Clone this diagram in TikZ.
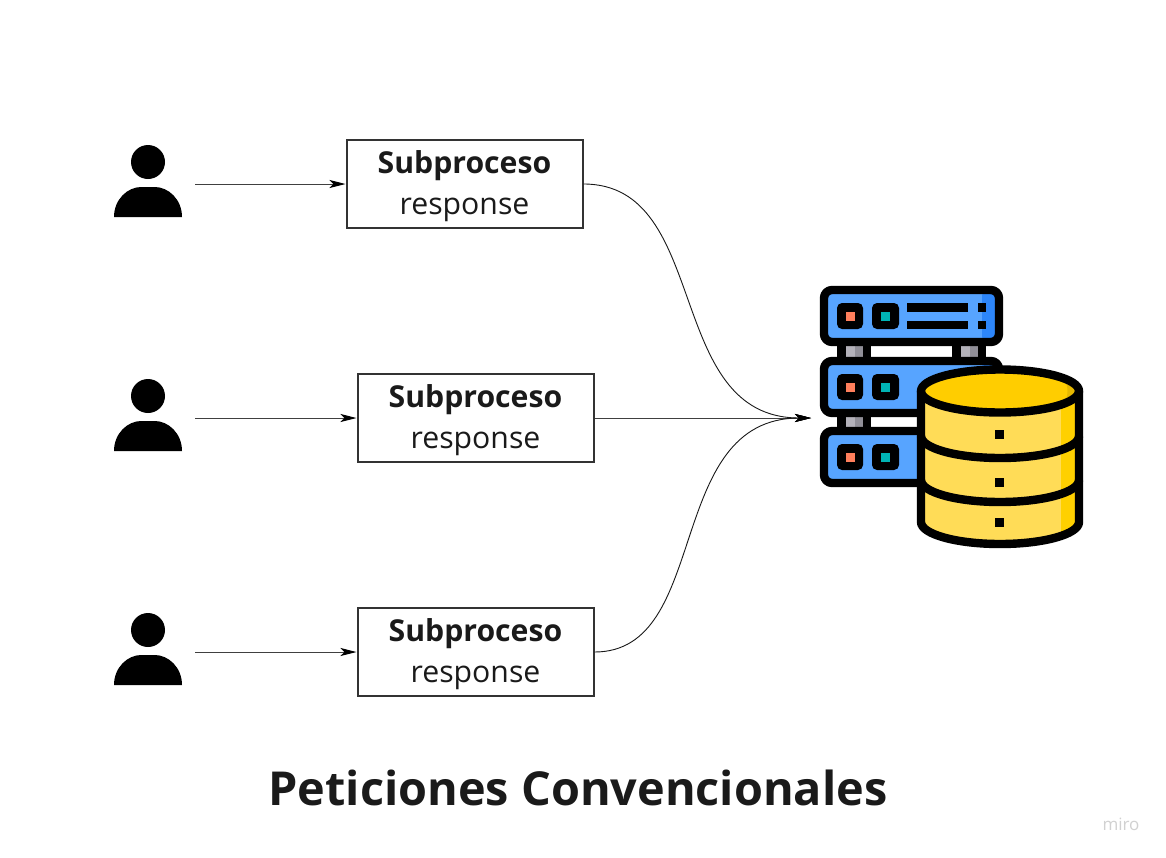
\documentclass[tikz,border=0pt]{standalone}
\usepackage{fontspec}
\setmainfont{Open Sans}
\usetikzlibrary{arrows.meta}
\definecolor{ink}{HTML}{1A1A1A}
\definecolor{srvblue}{HTML}{57A4FF}
\definecolor{srvdark}{HTML}{2D86FA}
\definecolor{dbtop}{HTML}{FFCD00}
\definecolor{dbdark}{HTML}{E6B800}
\definecolor{dbbody}{HTML}{FFDC57}
\definecolor{dbband}{HTML}{FFD000}
\definecolor{gaugeA}{HTML}{B4B2BA}
\definecolor{gaugeB}{HTML}{918F98}
\definecolor{ledA}{HTML}{FF7F5C}
\definecolor{ledB}{HTML}{00B4B4}
\tikzset{
  x=1pt,y=-1pt,
  boxnode/.style={draw=black!80,line width=2pt,fill=white,minimum width=236pt,minimum height=88pt,inner sep=0pt,align=center,text=ink,font=\fontsize{30.2}{41.2}\selectfont},
  personslot/.style={minimum width=94pt,minimum height=72pt,inner sep=0pt,outer sep=0pt},
  link/.style={draw=black!90,line width=0.9pt,-{Stealth[length=16pt,width=8pt,inset=4pt,color=black]}},
  straightlink/.style={link,draw=black!75,line width=1pt},
  iconline/.style={draw=black,line width=8.4pt,line join=round},
}
\newcommand{\boxlabel}{\raisebox{-2pt}[\height][\depth]{\textbf{Subproceso}}\\\raisebox{-2pt}[\height][\depth]{response}}
\newcommand{\personicon}[1]{%
  \fill[black] (148,#1-22) circle[radius=17];
  \fill[black] (114,#1+33) .. controls (114,#1+15) and (128,#1+3) .. (141,#1+3) -- (155,#1+3) .. controls (168,#1+3) and (182,#1+15) .. (182,#1+33) -- cycle;
}
\newcommand{\serverrow}[1]{%
  \fill[srvblue,rounded corners=7pt] (824,#1) rectangle (999,#1+52);
  \fill[srvdark,rounded corners=6pt] (982,#1) rectangle (999,#1+52);
  \draw[iconline,rounded corners=8pt] (824,#1) rectangle (999,#1+52);
  \fill[black,rounded corners=5pt] (837,#1+13) rectangle (863,#1+39);
  \fill[black,rounded corners=5pt] (872,#1+13) rectangle (899,#1+39);
  \fill[ledA] (846,#1+22) rectangle (855,#1+31);
  \fill[ledB] (881,#1+22) rectangle (890,#1+31);
}
\newcommand{\gauge}[2]{%
  \fill[black] (#1,#2) rectangle (#1+34,#2+12);
  \fill[gaugeA] (#1+9,#2) rectangle (#1+18,#2+12);
  \fill[gaugeB] (#1+18,#2) rectangle (#1+26,#2+12);
}
\begin{document}
\begin{tikzpicture}
\useasboundingbox (0,0) rectangle (1166,857);
\fill[white] (0,0) rectangle (1166,857);

% people
\personicon{184}\personicon{418}\personicon{652}
\node[personslot] (p1) at (148,184) {};
\node[personslot] (p2) at (148,418) {};
\node[personslot] (p3) at (148,652) {};

% boxes
\node[boxnode] (b1) at (464.5,184) {\boxlabel};
\node[boxnode] (b2) at (475.5,418) {\boxlabel};
\node[boxnode] (b3) at (475.5,652) {\boxlabel};

\coordinate (hub) at (811,418);

% connectors
\draw[straightlink] (p1.east) -- (b1.west);
\draw[straightlink] (p2.east) -- (b2.west);
\draw[straightlink] (p3.east) -- (b3.west);
\draw[link] (b1.east) .. controls (712,184) and (663,418) .. (hub);
\draw[straightlink] (b2.east) -- (hub);
\draw[link] (b3.east) .. controls (712,652) and (663,418) .. (hub);

% server stack
\gauge{837}{345}\gauge{952}{345}\gauge{837}{416}
\serverrow{290}\serverrow{361}\serverrow{431}
\fill[black] (907,303) rectangle (968,312);
\fill[black] (907,321) rectangle (968,329);
\fill[black] (978,303) rectangle (986,312);
\fill[black] (978,321) rectangle (986,329);

% database
\fill[dbbody] (921,391) -- (1079,391) -- (1079,522) arc[start angle=0,end angle=180,x radius=79,y radius=22] -- cycle;
\begin{scope}
  \clip (921,391) -- (1079,391) -- (1079,522) arc[start angle=0,end angle=180,x radius=79,y radius=22] -- cycle;
  \fill[dbband] (1061,391) rectangle (1079,550);
\end{scope}
\fill[dbtop] (1000,391) ellipse[x radius=79,y radius=21.5];
\begin{scope}
  \clip (1000,391) ellipse[x radius=79,y radius=21.5];
  \fill[dbdark] (1054,369) .. controls (1072,379) and (1072,403) .. (1054,413) -- (1085,413) -- (1085,369) -- cycle;
\end{scope}
\draw[iconline] (1000,391) ellipse[x radius=79,y radius=21.5];
\draw[iconline] (921,391) -- (921,522) arc[start angle=180,end angle=0,x radius=79,y radius=22] -- (1079,391);
\draw[iconline] (921,436) arc[start angle=180,end angle=0,x radius=79,y radius=22];
\draw[iconline] (921,480) arc[start angle=180,end angle=0,x radius=79,y radius=22];
\fill[black] (995,430) rectangle (1004,439);
\fill[black] (995,478) rectangle (1004,487);
\fill[black] (995,518) rectangle (1004,527);

% captions
\node[text=ink,font=\fontsize{46.8}{50}\selectfont\bfseries,inner sep=0pt] (title) at (578,788) {Peticiones Convencionales};
\node[text=black!18,font=\fontsize{17}{18}\selectfont,inner sep=0pt] (miro) at (1121,824) {miro};
\end{tikzpicture}
\end{document}
